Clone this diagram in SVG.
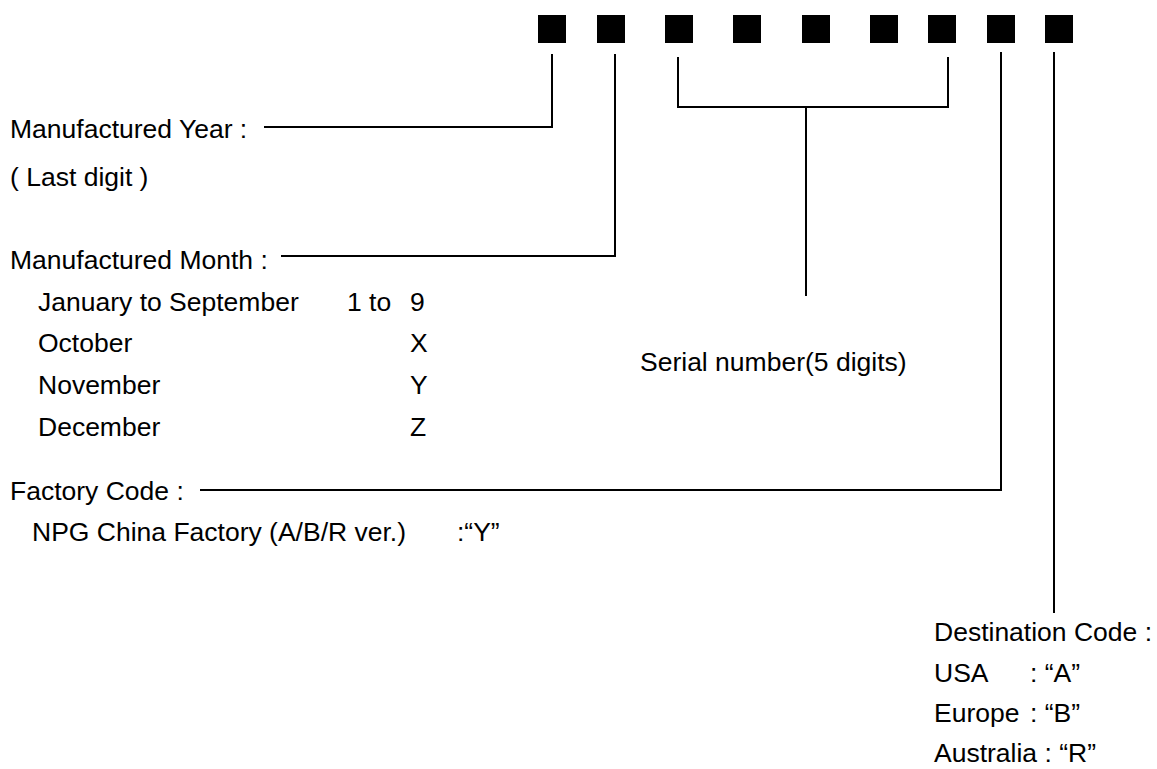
<svg xmlns="http://www.w3.org/2000/svg" width="1157" height="769" viewBox="0 0 1157 769">
<style>
text{font-family:"Liberation Sans",Arial,sans-serif;font-size:26.5px;fill:#000}
.sq{fill:#000}
.ln{stroke:#000;stroke-width:2;fill:none}
</style>
<rect width="1157" height="769" fill="#fff"/>
<g id="digits">
<rect class="sq" x="538" y="15" width="28" height="28"/>
<rect class="sq" x="597" y="15" width="28" height="28"/>
<rect class="sq" x="665" y="15" width="28" height="28"/>
<rect class="sq" x="733" y="15" width="28" height="28"/>
<rect class="sq" x="802" y="15" width="28" height="28"/>
<rect class="sq" x="870" y="15" width="28" height="28"/>
<rect class="sq" x="928" y="15" width="28" height="28"/>
<rect class="sq" x="987" y="15" width="28" height="28"/>
<rect class="sq" x="1045" y="15" width="28" height="28"/>
</g>
<g id="connectors">
<polyline class="ln" points="264,127 552,127 552,54"/>
<polyline class="ln" points="281,256 615,256 615,54"/>
<polyline class="ln" points="678,57 678,107 948,107 948,57"/>
<line class="ln" x1="806" y1="107" x2="806" y2="296"/>
<polyline class="ln" points="200,490 1001,490 1001,52"/>
<line class="ln" x1="1054" y1="52" x2="1054" y2="613"/>
</g>
<g id="year">
<text x="10" y="138">Manufactured Year :</text>
<text x="10" y="186">( Last digit )</text>
</g>
<g id="month">
<text x="10" y="269">Manufactured Month :</text>
<text x="38" y="311">January to September</text>
<text x="347" y="311">1 to</text>
<text x="410" y="311">9</text>
<text x="38" y="352">October</text>
<text x="410" y="352">X</text>
<text x="38" y="394">November</text>
<text x="410" y="394">Y</text>
<text x="38" y="436">December</text>
<text x="410" y="436">Z</text>
</g>
<g id="serial">
<text x="640" y="371">Serial number(5 digits)</text>
</g>
<g id="factory">
<text x="10" y="500">Factory Code :</text>
<text x="32" y="541">NPG China Factory (A/B/R ver.)</text>
<text x="457" y="541">:“Y”</text>
</g>
<g id="destination">
<text x="934" y="641">Destination Code :</text>
<text x="934" y="682">USA</text>
<text x="1030" y="682">: “A”</text>
<text x="934" y="722">Europe</text>
<text x="1030" y="722">: “B”</text>
<text x="934" y="762">Australia : “R”</text>
</g>
</svg>
